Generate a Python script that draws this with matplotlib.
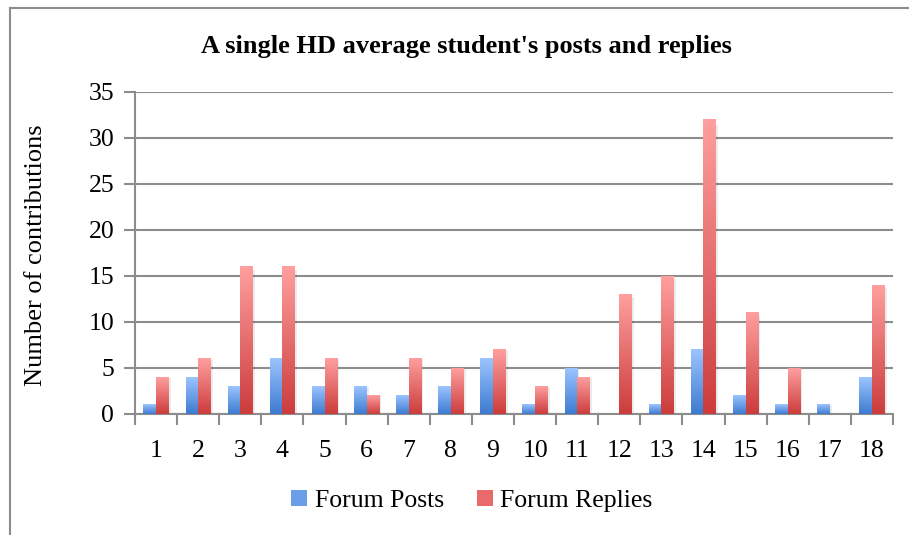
import numpy as np
import matplotlib
matplotlib.use("Agg")
import matplotlib.pyplot as plt
from matplotlib.colors import LinearSegmentedColormap
from matplotlib.patches import Rectangle
from matplotlib.lines import Line2D

categories = [str(i) for i in range(1, 19)]
posts = [1, 4, 3, 6, 3, 3, 2, 3, 6, 1, 5, 0, 1, 7, 2, 1, 1, 4]
replies = [4, 6, 16, 16, 6, 2, 6, 5, 7, 3, 4, 13, 15, 32, 11, 5, 0, 14]
yticks = [0, 5, 10, 15, 20, 25, 30, 35]

title = "A single HD average student's posts and replies"
ylabel = "Number of contributions"
series_names = ["Forum Posts", "Forum Replies"]

plt.rcParams['font.family'] = ['Liberation Serif', 'DejaVu Serif']

W, H = 909, 535
fig = plt.figure(figsize=(W / 100, H / 100), dpi=100)
ax = fig.add_axes([135 / W, 1 - 414 / H, (893 - 135) / W, (414 - 92) / H])

blue_cmap = LinearSegmentedColormap.from_list("b", ["#3d7bd0", "#9cc4ff"])
red_cmap = LinearSegmentedColormap.from_list("r", ["#cc3c3c", "#ff9f9f"])
grad = np.linspace(0, 1, 256).reshape(-1, 1)

bw = 0.3
x = np.arange(len(categories))

for xi, p, r in zip(x, posts, replies):
    for val, off, cmap in ((p, -bw / 2, blue_cmap), (r, bw / 2, red_cmap)):
        if val <= 0:
            continue
        x0, x1 = xi + off - bw / 2, xi + off + bw / 2
        sh = Rectangle((x1, 0), 0.05, val * 0.98, facecolor="#000000",
                       alpha=0.08, edgecolor="none", zorder=2)
        ax.add_patch(sh)
        ax.imshow(grad, extent=[x0, x1, 0, val], origin="lower", cmap=cmap,
                  aspect="auto", zorder=3, interpolation="bilinear")

ax.set_xlim(-0.5, len(categories) - 0.5)
ax.set_ylim(0, 35)
ax.set_aspect("auto")

ax.set_yticks(yticks)
ax.set_yticklabels([str(t) for t in yticks], fontsize=18.5)
ax.yaxis.grid(True, color="#8c8c8c", linewidth=1.5, zorder=1)
ax.set_axisbelow(True)

ax.set_xticks(x)
ax.set_xticklabels(categories, fontsize=18.5)
ax.tick_params(axis="x", length=0, pad=19)
ax.set_xticks(np.arange(len(categories) + 1) - 0.5, minor=True)
ax.tick_params(axis="x", which="minor", length=8, width=1.5, color="#8c8c8c")
ax.tick_params(axis="y", length=8, width=1.5, color="#8c8c8c", pad=7)

for s in ["top", "right"]:
    ax.spines[s].set_visible(False)
for s in ["left", "bottom"]:
    ax.spines[s].set_color("#8c8c8c")
    ax.spines[s].set_linewidth(1.5)

fig.text(36 / W, 1 - 255 / H, ylabel, rotation=90, ha="center", va="center",
         fontsize=19)

fig.text(466 / W, 1 - 46 / H, title, ha="center", va="center",
         fontsize=19, fontweight="bold")

handles = [Rectangle((0, 0), 1, 1, facecolor="#6a9ee8"),
           Rectangle((0, 0), 1, 1, facecolor="#e86a6a")]
fig.legend(handles, series_names, loc="center", bbox_to_anchor=(472 / W, 1 - 501 / H),
           ncol=2, frameon=False, fontsize=18.5, handlelength=0.6, handleheight=0.6,
           handletextpad=0.3, columnspacing=1.3)

fig.add_artist(Line2D([10 / W, 10 / W], [1 - 8 / H, 0], transform=fig.transFigure,
                      color="#8c8c8c", linewidth=1.5))
fig.add_artist(Line2D([10 / W, 1], [1 - 8 / H, 1 - 8 / H], transform=fig.transFigure,
                      color="#8c8c8c", linewidth=1.5))

fig.savefig("out.png", dpi=100)
